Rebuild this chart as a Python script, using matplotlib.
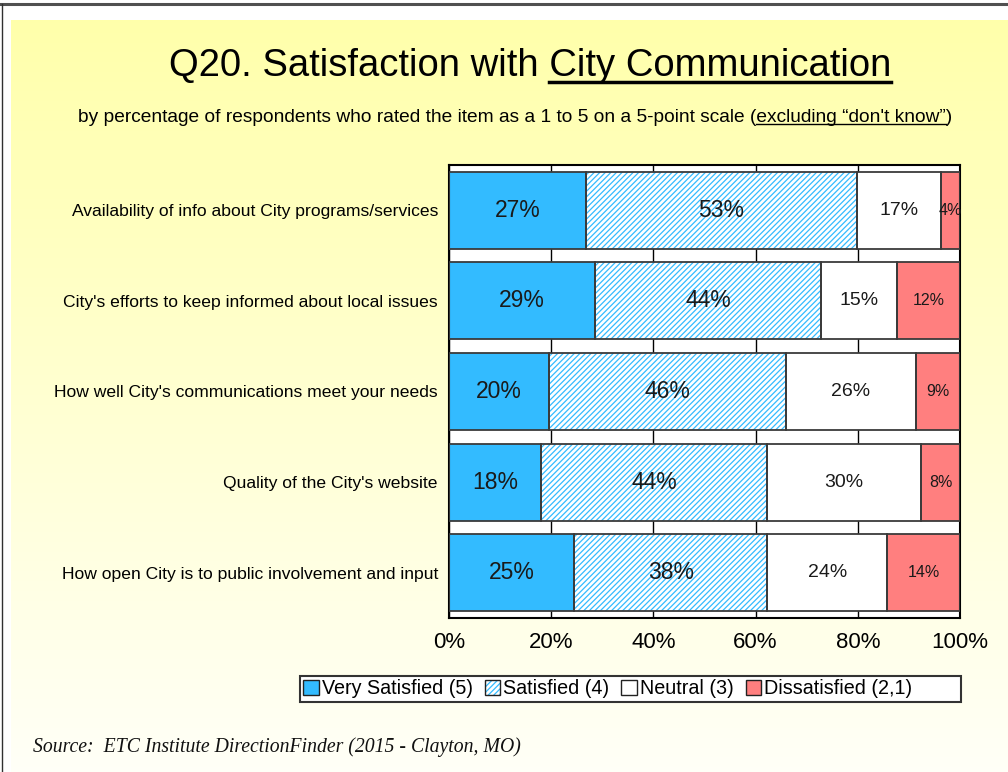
import matplotlib.pyplot as plt
import numpy as np
from matplotlib.patches import Patch, Rectangle

plt.rcParams['font.family'] = ['Liberation Sans', 'DejaVu Sans']
plt.rcParams['hatch.color'] = '#33BBFF'
plt.rcParams['hatch.linewidth'] = 0.9

categories = [
    'Availability of info about City programs/services',
    "City's efforts to keep informed about local issues",
    "How well City's communications meet your needs",
    "Quality of the City's website",
    'How open City is to public involvement and input',
]
series = ['Very Satisfied (5)', 'Satisfied (4)', 'Neutral (3)', 'Dissatisfied (2,1)']
very_satisfied = [26.8, 28.6, 19.5, 18.0, 24.5]
satisfied = [53.0, 44.2, 46.4, 44.3, 37.8]
neutral = [16.5, 14.9, 25.5, 30.1, 23.5]
dissatisfied = [3.7, 12.3, 8.6, 7.6, 14.2]
xticks = [0, 20, 40, 60, 80, 100]

W, H = 1008, 772
fig = plt.figure(figsize=(W / 100, H / 100), dpi=100)

# background: yellow gradient panel with a frame line at top/left
bg = fig.add_axes([0, 0, 1, 1], zorder=-10)
bg.set_xlim(0, W)
bg.set_ylim(H, 0)
bg.axis('off')
grad = np.linspace(0, 1, 256)[:, None]
top = np.array([1.0, 1.0, 0.67])
bot = np.array([1.0, 1.0, 0.97])
img = top[None, None, :] * (1 - grad[..., None]) + bot[None, None, :] * grad[..., None]
bg.imshow(img, extent=[11, W, H, 20], aspect='auto', interpolation='bilinear')
bg.plot([0, W], [4, 4], color='#505050', lw=2.2)
bg.plot([2, 2], [4, H], color='#303030', lw=1)
# legend box
bg.add_patch(Rectangle((300, 676), 661, 26, facecolor='white', edgecolor='#333333', lw=1.5))

ax = fig.add_axes([449 / W, 1 - 618 / H, 511 / W, 453 / H])
ax.set_facecolor('white')

data = [very_satisfied, satisfied, neutral, dissatisfied]
faces = ['#33BBFF', 'white', 'white', '#FF7F7F']
hatches = [None, '//////', None, None]
label_sizes = [16.5, 16.5, 14, 11.5]
y = np.arange(len(categories))
left = np.zeros(len(categories))
for vals, fc, hatch, fs in zip(data, faces, hatches, label_sizes):
    vals = np.array(vals)
    ax.barh(y, vals, left=left, height=0.85, color=fc, hatch=hatch,
            edgecolor=None, linewidth=0, zorder=2)
    ax.barh(y, vals, left=left, height=0.85, fill=False,
            edgecolor='#3a3a3a', linewidth=1.3, zorder=3)
    for yi, l, v in zip(y, left, vals):
        ax.text(l + v / 2, yi, f'{int(v + 0.5)}%', ha='center', va='center',
                fontsize=fs, color='#1a1a1a', zorder=4)
    left += vals

ax.set_xlim(0, 100)
ax.set_ylim(len(categories) - 0.5, -0.5)
ax.set_xticks(xticks)
ax.set_xticklabels([f'{t}%' for t in xticks], fontsize=16)
ax.set_yticks(y)
ax.set_yticklabels(categories, fontsize=12.6)
ax.tick_params(axis='y', length=0, pad=8)
ax.tick_params(axis='x', length=0, pad=10)
ax.grid(axis='x', color='black', lw=1, zorder=1)
ax.set_axisbelow(True)
for s in ax.spines.values():
    s.set_color('black')
    s.set_linewidth(1.5)

# legend
handles = [
    Patch(facecolor='#33BBFF', edgecolor='#222222'),
    (Patch(facecolor='white', hatch='//////', edgecolor=None, linewidth=0),
     Patch(fill=False, edgecolor='#222222')),
    Patch(facecolor='white', edgecolor='#222222'),
    Patch(facecolor='#FF7F7F', edgecolor='#222222'),
]
leg = fig.legend(handles, series, loc='center left', bbox_to_anchor=(303 / W, 1 - 689 / H),
                 ncol=4, fontsize=14.2, frameon=False,
                 handlelength=0.8, handleheight=0.8, handletextpad=0.15,
                 columnspacing=0.6, borderpad=0, borderaxespad=0)

# title and subtitle with underlined parts
fig.canvas.draw()
renderer = fig.canvas.get_renderer()


def width_px(s, size):
    t = fig.text(0, 0, s, fontsize=size)
    w = t.get_window_extent(renderer).width
    t.remove()
    return w


def underlined(cx, cy, pre, under, post, size, lw):
    full = pre + under + post
    t = fig.text(cx / W, 1 - cy / H, full, fontsize=size, ha='center', va='center', color='black')
    bb = t.get_window_extent(renderer)
    wpost = width_px(post, size) if post else 0
    wu = width_px(under, size)
    x1 = bb.x1 - wpost
    x0 = x1 - wu
    yl = bb.y0 + lw * 0.5 + 1
    fig.add_artist(plt.Line2D([x0 / W, x1 / W], [yl / H, yl / H], color='black', lw=lw))


underlined(530, 66, 'Q20. Satisfaction with ', 'City Communication', '', 27.5, 2.5)
underlined(515, 117, 'by percentage of respondents who rated the item as a 1 to 5 on a 5-point scale (',
           'excluding \u201cdon\'t know\u201d', ')', 13.8, 1.0)

fig.text(33 / W, 1 - 747 / H, 'Source:  ETC Institute DirectionFinder (2015 - Clayton, MO)',
         fontsize=14.2, style='italic', family=['Liberation Serif', 'DejaVu Serif'],
         ha='left', va='center', color='#111111')

fig.savefig('out.png', dpi=100)
